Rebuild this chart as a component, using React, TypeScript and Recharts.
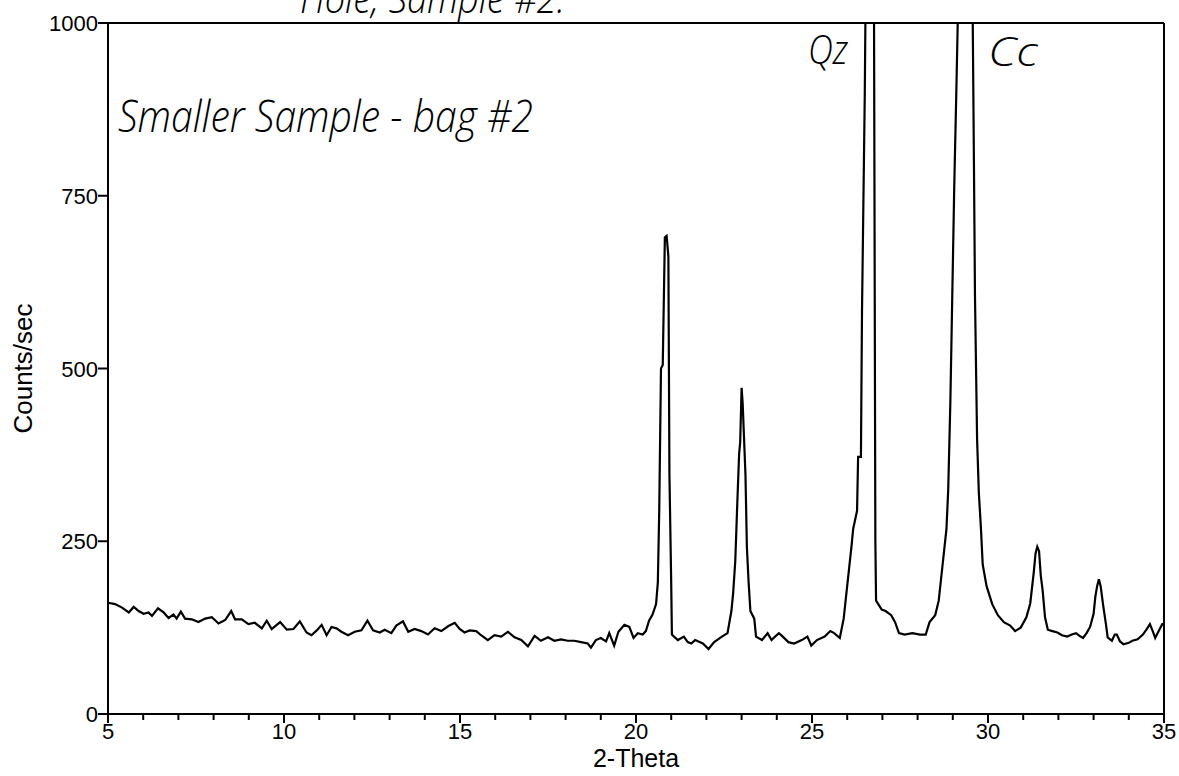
import React from "react";
import { LineChart, Line, XAxis, YAxis, ReferenceLine } from "recharts";

// 2-theta positions (degrees) and counts/sec
const twoTheta = [
  5.0, 5.2, 5.4, 5.59, 5.73, 5.87, 6.01, 6.15, 6.25, 6.42, 6.58, 6.72, 6.86, 6.95, 7.07, 7.19,
  7.38, 7.57, 7.76, 7.95, 8.14, 8.33, 8.5, 8.61, 8.8, 8.99, 9.17, 9.37, 9.51, 9.65, 9.89, 10.08,
  10.27, 10.45, 10.64, 10.78, 10.93, 11.07, 11.21, 11.35, 11.49, 11.63, 11.82, 12.01, 12.2, 12.37,
  12.53, 12.72, 12.86, 13.05, 13.19, 13.38, 13.53, 13.71, 13.9, 14.09, 14.28, 14.47, 14.66, 14.85,
  14.99, 15.13, 15.27, 15.46, 15.6, 15.79, 15.98, 16.17, 16.36, 16.55, 16.74, 16.93, 17.12, 17.3,
  17.5, 17.68, 17.87, 18.06, 18.25, 18.44, 18.63, 18.72, 18.86, 19.0, 19.15, 19.24, 19.38, 19.5,
  19.67, 19.81, 19.93, 20.05, 20.19, 20.28, 20.37, 20.47, 20.57, 20.62, 20.66, 20.71, 20.76, 20.82,
  20.87, 20.92, 20.95, 21.0, 21.02, 21.08, 21.19, 21.36, 21.47, 21.57, 21.68, 21.9, 22.06, 22.22,
  22.44, 22.6, 22.71, 22.76, 22.82, 22.87, 22.93, 22.96, 23.0, 23.03, 23.07, 23.11, 23.15, 23.2,
  23.25, 23.36, 23.41, 23.58, 23.74, 23.85, 23.95, 24.06, 24.17, 24.33, 24.49, 24.71, 24.87, 24.98,
  25.14, 25.36, 25.52, 25.63, 25.79, 25.9, 26.01, 26.12, 26.17, 26.28, 26.31, 26.39, 26.42, 26.5,
  26.55, 26.64, 26.72, 26.76, 26.8, 26.82, 26.98, 27.09, 27.25, 27.36, 27.47, 27.63, 27.85, 28.07,
  28.23, 28.34, 28.5, 28.6, 28.71, 28.82, 28.87, 28.93, 28.98, 29.04, 29.1, 29.16, 29.25, 29.4,
  29.5, 29.56, 29.6, 29.63, 29.69, 29.74, 29.8, 29.85, 29.96, 30.12, 30.28, 30.45, 30.63, 30.77,
  30.93, 31.09, 31.2, 31.3, 31.35, 31.4, 31.45, 31.5, 31.55, 31.62, 31.7, 31.83, 31.97, 32.1,
  32.25, 32.38, 32.5, 32.6, 32.7, 32.8, 32.9, 33.0, 33.05, 33.1, 33.15, 33.2, 33.27, 33.35, 33.4,
  33.52, 33.6, 33.66, 33.75, 33.85, 34.0, 34.1, 34.25, 34.4, 34.5, 34.6, 34.68, 34.75, 34.85,
  34.95, 35.0,
];

const counts = [
  161, 159, 154, 147, 155, 149, 145, 147, 142, 153, 147, 139, 144, 138, 148, 138,
  137, 133, 138, 140, 131, 136, 149, 137, 137, 130, 132, 124, 135, 123, 133, 122,
  123, 134, 118, 114, 121, 129, 114, 126, 124, 119, 114, 119, 121, 135,
  121, 118, 122, 117, 128, 134, 119, 123, 120, 115, 124, 120, 127, 132,
  123, 118, 121, 120, 114, 107, 114, 112, 119, 111, 107, 98, 113, 106,
  111, 106, 108, 106, 106, 104, 102, 96, 107, 110, 105, 117, 99, 119,
  129, 126, 110, 117, 115, 120, 135, 144, 159, 190, 294, 500, 505, 690,
  692, 662, 346, 190, 115, 112, 107, 112, 104, 102, 107, 102, 94, 104,
  112, 117, 149, 175, 221, 294, 377, 393, 472, 450, 398, 346, 242, 190,
  149, 138, 112, 107, 117, 107, 112, 117, 112, 104, 102, 107, 112, 99,
  107, 112, 120, 117, 110, 138, 190, 242, 268, 294, 372, 372, 580, 900,
  1200, 3200, 1300, 1050, 250, 164, 151, 149, 143, 133, 117, 115, 117, 115,
  115, 133, 143, 164, 216, 268, 325, 450, 591, 760, 900, 1050, 1800, 5000,
  1500, 1040, 800, 606, 398, 320, 268, 216, 185, 159, 143, 133, 128, 120,
  125, 140, 160, 205, 232, 242, 236, 200, 180, 140, 122, 120, 118, 114,
  112, 115, 117, 113, 110, 117, 126, 145, 170, 185, 195, 185, 158, 130, 111,
  106, 115, 115, 105, 101, 103, 106, 108, 115, 122, 130, 120, 110, 120,
  130, 130,
];

const xTicks = [
  5, 6, 7, 8, 9, 10, 11, 12, 13, 14, 15, 16, 17, 18, 19, 20,
  21, 22, 23, 24, 25, 26, 27, 28, 29, 30, 31, 32, 33, 34, 35,
];
const yTicks = [0, 250, 500, 750, 1000];

const data = twoTheta.map((t, i) => ({ t, c: counts[i] }));

const tickFont = "'Liberation Sans Narrow', 'Arial Narrow', 'Liberation Sans', Arial, sans-serif";
const handFont = "'Open Sans', 'Noto Sans', sans-serif";

function XTick(props: any) {
  const { x, y, payload } = props;
  const major = payload.value % 5 === 0;
  return (
    <g>
      <line x1={x} y1={y} x2={x} y2={y + (major ? 9 : 6)} stroke="#000" strokeWidth={2} />
      {major && (
        <text x={x} y={y + 25} textAnchor="middle" fontSize={22} fontFamily={tickFont} fill="#000">
          {payload.value}
        </text>
      )}
    </g>
  );
}

function YTick(props: any) {
  const { x, y, payload } = props;
  return (
    <g>
      <line x1={x - 10} y1={y} x2={x} y2={y} stroke="#000" strokeWidth={2} />
      <text x={x - 10} y={y + 8} textAnchor="end" fontSize={22} fontFamily={tickFont} fill="#000">
        {payload.value}
      </text>
    </g>
  );
}

export default function App() {
  return (
    <div style={{ position: "absolute", left: 0, top: 0, width: 1179, height: 776, background: "#fff" }}>
      <LineChart width={1179} height={776} data={data} margin={{ top: 23, right: 15, left: 0, bottom: 0 }}>
        <XAxis
          dataKey="t"
          type="number"
          domain={[5, 35]}
          ticks={xTicks}
          interval={0}
          height={62}
          tickSize={0}
          tickMargin={0}
          tickLine={false}
          tick={<XTick />}
          axisLine={{ stroke: "#000", strokeWidth: 2 }}
          label={{
            value: "2-Theta",
            position: "insideBottom",
            offset: 9,
            style: { fontSize: 25, fontFamily: tickFont, fill: "#000" },
          }}
        />
        <YAxis
          type="number"
          domain={[0, 1000]}
          allowDataOverflow
          ticks={yTicks}
          interval={0}
          width={108}
          tickSize={0}
          tickMargin={0}
          tickLine={false}
          tick={<YTick />}
          axisLine={{ stroke: "#000", strokeWidth: 2 }}
          label={{
            value: "Counts/sec",
            angle: -90,
            position: "insideLeft",
            offset: 23,
            style: { textAnchor: "middle", fontSize: 26, fontFamily: tickFont, fill: "#000" },
          }}
        />
        <ReferenceLine y={1000} stroke="#000" strokeWidth={2} />
        <ReferenceLine x={35} stroke="#000" strokeWidth={2} />
        <Line
          type="linear"
          dataKey="c"
          stroke="#000"
          strokeWidth={2.2}
          dot={false}
          isAnimationActive={false}
        />
      </LineChart>
      <svg
        width={1179}
        height={776}
        style={{ position: "absolute", left: 0, top: 0, pointerEvents: "none" }}
      >
        <g fontFamily={handFont} fontStyle="italic" fontWeight={300} fill="#000">
          <text x={300} y={13} fontSize={40} textLength={265} lengthAdjust="spacingAndGlyphs">
            Hole; Sample #2.
          </text>
          <text x={118} y={132} fontSize={44} textLength={415} lengthAdjust="spacingAndGlyphs">
            Smaller Sample - bag #2
          </text>
          <text x={808} y={64} fontSize={40} textLength={40} lengthAdjust="spacingAndGlyphs">
            Qz
          </text>
          <text x={988} y={66} fontSize={40} textLength={50} lengthAdjust="spacingAndGlyphs">
            Cc
          </text>
        </g>
      </svg>
    </div>
  );
}
